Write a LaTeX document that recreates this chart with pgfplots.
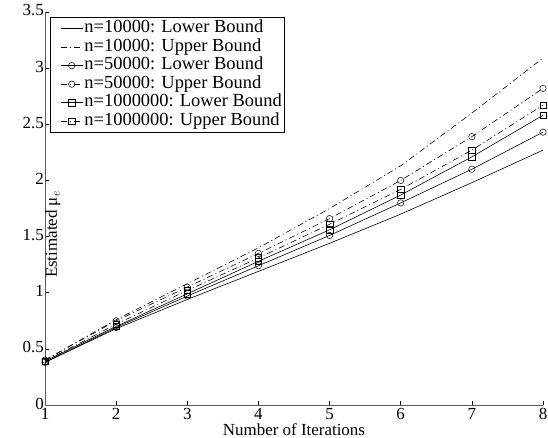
\documentclass[border=0pt]{standalone}
\usepackage{fontspec}
\setmainfont{Liberation Serif}
\usepackage{pgfplots}
\pgfplotsset{compat=1.18}
\begin{document}
\fontsize{17}{19}\selectfont
\begin{tikzpicture}
% fixed page: axis box 498x393 inside 548x438
\useasboundingbox (-45bp,-33bp) rectangle (503bp,405bp);
\begin{axis}[
    scale only axis,
    width=498bp, height=393bp,
    xmin=1, xmax=8, ymin=0, ymax=3.5,
    xtick={1,...,8},
    ytick={0,0.5,...,3.5},
    axis lines*=left,
    axis line style={black!65, line width=0.8pt},
    tick align=inside,
    tick style={black, line width=0.6pt},
    major tick length=4bp,
    /pgf/number format/assume math mode=true,
    ticklabel style={font=\fontsize{17}{19}\selectfont},
    xticklabel style={inner xsep=1bp, inner ysep=0bp, yshift=-3.5bp},
    yticklabel style={xshift=1bp, inner xsep=2bp, inner ysep=0bp, yshift=1.5bp},
    xlabel={Number of Iterations},
    ylabel={Estimated μ$_e$},
    label style={font=\fontsize{17}{19}\selectfont},
    xlabel style={at={(0.5,0)}, anchor=base, yshift=-30.5bp, inner sep=0pt},
    ylabel style={at={(0,0.5)}, anchor=north, xshift=-26bp, inner sep=0pt},
    legend style={at={(5bp,388bp)}, anchor=north west,
                  draw=black, line width=0.8pt, inner xsep=1bp, inner ysep=2bp,
                  row sep=0pt,
                  font=\fontsize{18.5}{19}\selectfont,
                  nodes={inner xsep=1.5bp, inner ysep=1bp,
                         text height=12.5bp, text depth=4bp}},
    legend cell align=left,
    legend image code/.code={
        \path (0bp,0bp);
        \draw[mark repeat=2,mark phase=2,#1]
        plot coordinates {(9bp,0bp) (20bp,0bp) (31bp,0bp)};},
    every axis plot/.append style={black, line width=0.6pt,
        mark size=3.2bp, mark options={solid, line width=0.5pt, fill=none}},
    ub/.style={dash pattern=on 6bp off 3bp on 1bp off 3bp},
]
\addplot[solid] coordinates {
 (1,0.38) (2,0.68) (3,0.94) (4,1.19) (5,1.44) (6,1.70) (7,1.98) (8,2.27)};
\addlegendentry{n=10000: Lower Bound}
\addplot[ub] coordinates {
 (1,0.40) (2,0.76) (3,1.08) (4,1.40) (5,1.75) (6,2.13) (7,2.60) (8,3.09)};
\addlegendentry{n=10000: Upper Bound}
\addplot[solid, mark=o] coordinates {
 (1,0.38) (2,0.69) (3,0.97) (4,1.24) (5,1.51) (6,1.80) (7,2.10) (8,2.43)};
\addlegendentry{n=50000: Lower Bound}
\addplot[ub, mark=o] coordinates {
 (1,0.40) (2,0.75) (3,1.05) (4,1.35) (5,1.66) (6,2.00) (7,2.39) (8,2.82)};
\addlegendentry{n=50000: Upper Bound}
\addplot[solid, mark=square] coordinates {
 (1,0.39) (2,0.70) (3,0.99) (4,1.28) (5,1.56) (6,1.87) (7,2.21) (8,2.58)};
\addlegendentry{n=1000000: Lower Bound}
\addplot[ub, mark=square] coordinates {
 (1,0.39) (2,0.72) (3,1.02) (4,1.31) (5,1.61) (6,1.92) (7,2.27) (8,2.67)};
\addlegendentry{n=1000000: Upper Bound}
\end{axis}
\end{tikzpicture}
\end{document}
